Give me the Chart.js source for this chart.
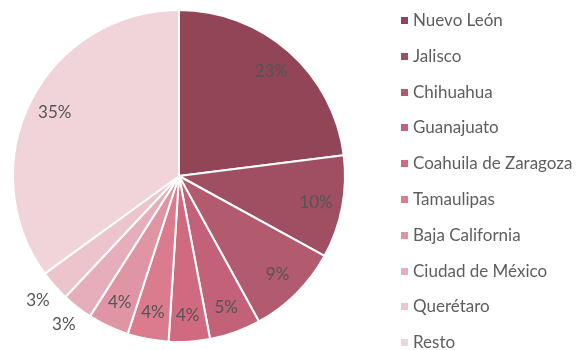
<!DOCTYPE html>
<html>
<head>
<meta charset="utf-8">
<script src="https://cdn.jsdelivr.net/npm/chart.js@4"></script>
<style>
    body { margin: 0; background: #fff; }
    .wrap { position: relative; width: 580px; height: 350px; }
    #legend {
        position: absolute; left: 401px; top: 3px;
        margin: 0; padding: 0; list-style: none;
        font-family: Lato, sans-serif; font-size: 17px; color: #5e5e5e;
    }
    #legend li { height: 35.8px; line-height: 34px; white-space: nowrap; }
    #legend span {
        display: inline-block; width: 7px; height: 7px;
        margin-right: 5px; vertical-align: 2px;
    }
</style>
</head>
<body>
<div class="wrap">
    <canvas id="myChart" width="580" height="350"></canvas>
    <ul id="legend"></ul>
</div>
<script>
const labels = [
    'Nuevo León',
    'Jalisco',
    'Chihuahua',
    'Guanajuato',
    'Coahuila de Zaragoza',
    'Tamaulipas',
    'Baja California',
    'Ciudad de México',
    'Querétaro',
    'Resto'
];
const shares = [23, 10, 9, 5, 4, 4, 4, 3, 3, 35];
const colors = [
    '#914556', '#a04f62', '#b25a6e', '#c26178', '#d06a80',
    '#da7b8e', '#e095a4', '#e6aebb', '#ecc4cc', '#f0d4d9'
];

// percent text: inside the slice, small slices (<4) get it outside the rim
const pctLabels = {
    id: 'pctLabels',
    afterDatasetsDraw(chart) {
        const ctx = chart.ctx;
        const meta = chart.getDatasetMeta(0);
        ctx.save();
        ctx.font = '17px Lato, sans-serif';
        ctx.fillStyle = '#555';
        ctx.textAlign = 'center';
        ctx.textBaseline = 'middle';
        meta.data.forEach(function (arc, i) {
            const v = chart.data.datasets[0].data[i];
            const a = (arc.startAngle + arc.endAngle) / 2;
            const r = v < 4 ? arc.outerRadius + 22 : arc.outerRadius * 0.84;
            ctx.fillText(v + '%', arc.x + Math.cos(a) * r, arc.y + Math.sin(a) * r);
        });
        ctx.restore();
    }
};

const myChart = new Chart(document.getElementById('myChart'), {
    type: 'pie',
    data: {
        labels: labels,
        datasets: [{
            data: shares,
            backgroundColor: colors,
            borderColor: '#fff',
            borderWidth: 2
        }]
    },
    options: {
        responsive: false,
        animation: false,
        layout: { padding: { left: 12, right: 234, top: 9, bottom: 7 } },
        plugins: {
            legend: { display: false },
            tooltip: { enabled: false }
        }
    },
    plugins: [pctLabels]
});

// legend list built from the same labels/colors
const legend = document.getElementById('legend');
labels.forEach(function (name, i) {
    const li = document.createElement('li');
    const box = document.createElement('span');
    box.style.background = colors[i];
    li.appendChild(box);
    li.appendChild(document.createTextNode(name));
    legend.appendChild(li);
});
</script>
</body>
</html>
